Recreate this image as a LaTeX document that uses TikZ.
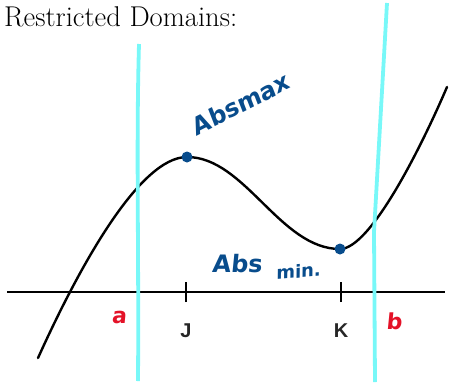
\documentclass[tikz,border=0pt]{standalone}
\usepackage{fontspec}
\newfontfamily\handfont{DejaVu Sans}[FakeSlant=0.1]
\newfontfamily\labfont{Liberation Sans}
\definecolor{penblue}{RGB}{8,76,140}
\definecolor{pencyan}{RGB}{120,248,248}
\definecolor{penred}{RGB}{228,18,40}
\begin{document}
\begin{tikzpicture}[x=1pt,y=-1pt,
  curve/.style={line width=2.4pt,black,line cap=round},
  axisline/.style={line width=2.6pt,black},
  tickmark/.style={line width=2.6pt,black},
  bound/.style={line width=3.8pt,pencyan},
  dot/.style={circle,fill=penblue,inner sep=0pt,minimum size=11pt},
  hand/.style={text=penblue,font=\handfont\bfseries\fontsize{24}{26}\selectfont,inner sep=0pt},
  redhand/.style={text=penred,font=\handfont\bfseries\fontsize{22}{24}\selectfont,inner sep=0pt},
  ticklab/.style={font=\labfont\bfseries\fontsize{20}{22}\selectfont,inner sep=0pt,text=black!85}]
\useasboundingbox (0,0) rectangle (449,386);
% title
\node[anchor=west,inner sep=0pt,font=\fontsize{28.6}{32}\selectfont] (title) at (4,17) {Restricted Domains:};
% axis
\coordinate (axL) at (7,292);
\coordinate (axR) at (445,292);
\draw[axisline] (axL) -- (axR);
% ticks
\coordinate (J) at (186,292);
\coordinate (K) at (341,292);
\draw[tickmark] ([yshift=-10pt]J) -- ([yshift=10pt]J);
\draw[tickmark] ([yshift=-10pt]K) -- ([yshift=10pt]K);
\node[ticklab] (Jl) at (186,331) {J};
\node[ticklab] (Kl) at (341,331) {K};
% curve
\coordinate (start) at (38,358);
\coordinate (end) at (447,87);
\draw[curve] (start) .. controls (80,265) and (140,157) .. (187,157)
  .. controls (245,157) and (280,249) .. (340,249)
  .. controls (370,249) and (420,150) .. (end);
% cyan boundaries
\coordinate (aTop) at (139,44);
\coordinate (aBot) at (138,381);
\draw[bound] (aTop) .. controls (136,150) and (139,250) .. (aBot);
\coordinate (bTop) at (387,3);
\coordinate (bMid) at (374,232);
\coordinate (bBot) at (375,382);
\draw[bound] (bTop) -- (bMid) -- (bBot);
% points
\node[dot] (max) at (187,157) {};
\node[dot] (min) at (340,249) {};
% labels
\node[hand,rotate=27] (absmax) at (240,104) {Absmax};
\node[hand] (abs) at (237,264) {Abs};
\node[hand,font=\handfont\bfseries\fontsize{18}{20}\selectfont,rotate=5] (absmin) at (298,271) {min.};
\node[redhand] (a) at (119,317) {a};
\node[redhand] (b) at (394,321) {b};
\end{tikzpicture}
\end{document}
